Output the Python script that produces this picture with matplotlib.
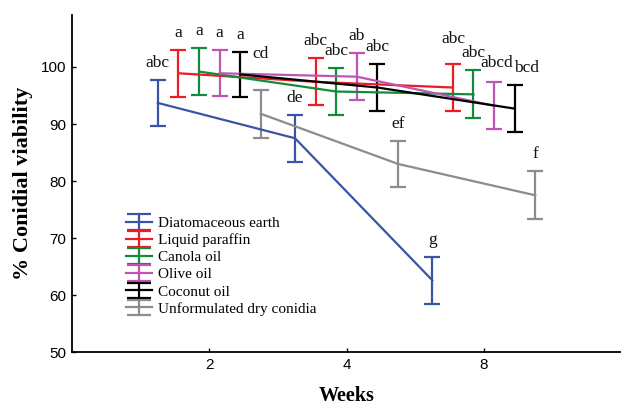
import matplotlib
matplotlib.use("Agg")
import matplotlib.pyplot as plt
from matplotlib.legend_handler import HandlerErrorbar
from matplotlib.lines import Line2D
import numpy as np

weeks = ["2", "4", "8"]
series = ["Diatomaceous earth", "Liquid paraffin", "Canola oil", "Olive oil",
          "Coconut oil", "Unformulated dry conidia"]
colors = ["#3A53A4", "#ED1C24", "#138B3B", "#BE55B4", "#000000", "#8C8C8C"]

means = {
    "Diatomaceous earth":       [93.7, 87.5, 62.6],
    "Liquid paraffin":          [98.9, 97.4, 96.4],
    "Canola oil":               [99.2, 95.7, 95.2],
    "Olive oil":                [98.9, 98.3, 93.2],
    "Coconut oil":              [98.7, 96.4, 92.7],
    "Unformulated dry conidia": [91.8, 83.0, 77.5],
}
errs = {
    "Diatomaceous earth":       [4.1, 4.1, 4.1],
    "Liquid paraffin":          [4.1, 4.1, 4.1],
    "Canola oil":               [4.1, 4.1, 4.2],
    "Olive oil":                [4.0, 4.1, 4.1],
    "Coconut oil":              [4.0, 4.1, 4.1],
    "Unformulated dry conidia": [4.2, 4.1, 4.2],
}
letters = {
    "Diatomaceous earth":       ["abc", "de", "g"],
    "Liquid paraffin":          ["a", "abc", "abc"],
    "Canola oil":               ["a", "abc", "abc"],
    "Olive oil":                ["a", "ab", "abcd"],
    "Coconut oil":              ["a", "abc", "bcd"],
    "Unformulated dry conidia": ["cd", "ef", "f"],
}

# layout: step between series within a week group (groups centred on ticks)
step = 0.15
# label offsets in pixels (dx, dy) above error bar tops
label_off = {
    ("Unformulated dry conidia", 0): (0, 28),
    ("Liquid paraffin", 2): (0, 17),
    ("Coconut oil", 2): (12, 9),
    ("Olive oil", 2): (3, 11),
}


class WideCapHandler(HandlerErrorbar):
    def create_artists(self, *args, **kwargs):
        arts = super().create_artists(*args, **kwargs)
        for a in arts:
            if isinstance(a, Line2D) and a.get_marker() in ('_',):
                a.set_markersize(17)
        return arts


plt.rcParams['font.family'] = ['Liberation Serif', 'DejaVu Serif']

fig = plt.figure(figsize=(6.21, 4.08), dpi=100)
ax = fig.add_axes([0.116, 0.137, 0.884, 0.826])

base = np.arange(1, len(weeks) + 1)
handles = []
for i, s in enumerate(series):
    xs = base + (i - 2.5) * step
    h = ax.errorbar(xs, means[s], yerr=errs[s], color=colors[i], lw=1.6,
                    elinewidth=1.6, capsize=6, capthick=1.6, label=s)
    handles.append(h)
    for j in range(3):
        dx, dy = label_off.get((s, j), (0, 9))
        ax.annotate(letters[s][j], (xs[j], means[s][j] + errs[s][j]),
                    xytext=(dx, dy), textcoords='offset pixels',
                    ha='center', va='bottom', fontsize=12.5, color='#111111')

ax.set_xlim(0, 4)
ax.set_ylim(50, 109.1)
ax.set_xticks(base)
ax.set_xticklabels(weeks)
ax.set_yticks([50, 60, 70, 80, 90, 100])
for lab in ax.get_xticklabels() + ax.get_yticklabels():
    lab.set_fontfamily('Liberation Sans')
    lab.set_fontsize(11)
ax.tick_params(direction='in', length=3, width=1, pad=4)
ax.spines['top'].set_visible(False)
ax.spines['right'].set_visible(False)
ax.spines['left'].set_linewidth(1.3)
ax.spines['bottom'].set_linewidth(1.3)

ax.set_xlabel("Weeks", fontsize=14.5, fontweight='bold', labelpad=10)
ax.set_ylabel("% Conidial viability", fontsize=16, fontweight='bold', labelpad=6)

leg = ax.legend(handles, series, loc='upper left', bbox_to_anchor=(0.085, 0.425),
                frameon=False, fontsize=11, handlelength=1.7, handletextpad=0.4,
                labelspacing=0.22, borderpad=0,
                handler_map={type(handles[0]): WideCapHandler()})

fig.savefig("out.png", dpi=100)
